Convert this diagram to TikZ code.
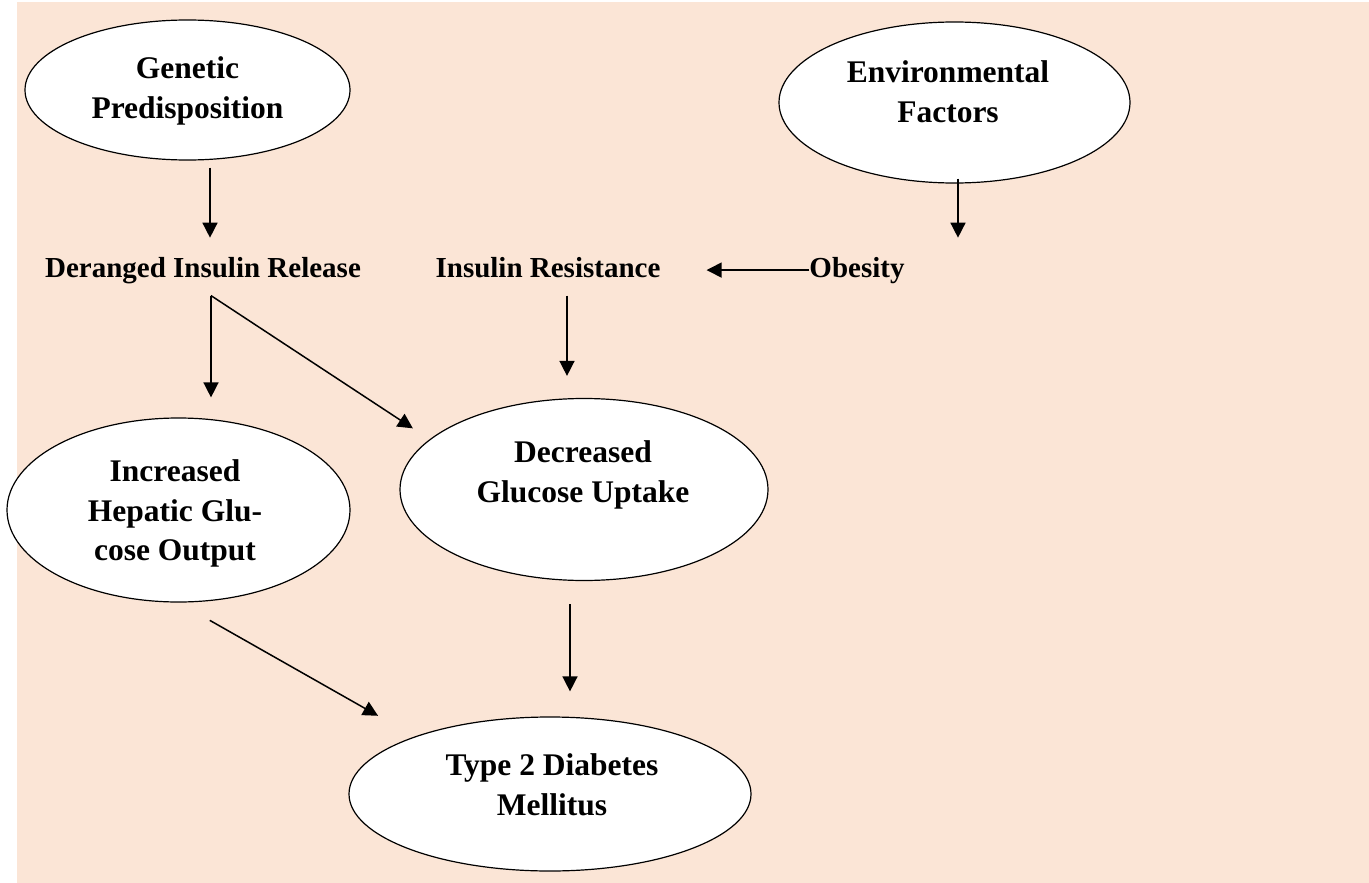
\documentclass[tikz,border=0pt]{standalone}
\usepackage{fontspec}
\setmainfont{Liberation Serif}
\usetikzlibrary{shapes.geometric,arrows.meta}
\definecolor{peach}{HTML}{FBE5D6}
\begin{document}
\begin{tikzpicture}[x=1pt,y=-1pt,
  blob/.style={ellipse,draw,fill=white,line width=1.2pt,inner sep=0pt},
  txt/.style={font=\fontsize{31.5}{39.5}\selectfont\bfseries,align=center,inner sep=0pt},
  lbl/.style={font=\fontsize{29}{35}\selectfont\bfseries,inner sep=0pt,anchor=base},
  arr/.style={line width=1.5pt,-{Triangle[length=15pt,width=15pt]}}]
\useasboundingbox (0,0) rectangle (1369,883);
\fill[peach] (17,2) rectangle (1369,883);
\node[blob,minimum width=325pt,minimum height=140pt] (gp) at (187.5,90){};
\node[blob,minimum width=351pt,minimum height=161pt] (env) at (954.5,102.5){};
\node[blob,minimum width=343pt,minimum height=184pt] (ihg) at (178.5,510){};
\node[blob,minimum width=368pt,minimum height=182pt] (dgu) at (584,489.5){};
\node[blob,minimum width=402pt,minimum height=154pt] (t2d) at (550,794){};
\node[txt] (gpt) at (187.5,90.8){Genetic\\Predisposition};
\node[txt] (envt) at (948,91.9){Environmental\\Factors};
\node[txt] (ihgt) at (175,513.8){Increased\\Hepatic Glu-\\cose Output};
\node[txt] (dgut) at (583,474.8){Decreased\\Glucose Uptake};
\node[txt] (t2dt) at (552,784.9){Type 2 Diabetes\\Mellitus};
\node[lbl] (dir) at (203,277){Deranged Insulin Release};
\node[lbl] (ir) at (548,277){Insulin Resistance};
\node[lbl] (ob) at (857,277){Obesity};
\coordinate (fork) at ([xshift=8pt,yshift=-12pt]dir.south);
\draw[arr,shorten <=7pt,shorten >=19pt] ([xshift=7pt]dir.north |- gp.south) -- ([xshift=7pt]dir.north);
\draw[arr,shorten <=-5pt,shorten >=19pt] ([xshift=3.5pt]env.south) -- ([xshift=3.5pt]env.south |- ob.north);
\draw[arr,shorten >=46pt] (ob.west) -- (ir.east |- ob.west);
\draw[arr,shorten >=20pt] (fork) -- (fork |- ihg.north);
\draw[arr,shorten >=20pt] (fork) -- (dgu.162);
\draw[arr,shorten <=18pt,shorten >=22pt] ([xshift=19pt]ir.south) -- ([xshift=19pt]ir.south |- dgu.north);
\draw[arr,shorten <=36pt,shorten >=42pt] (ihg.south) -- (t2d.157);
\draw[arr,shorten <=23pt,shorten >=25pt] ([xshift=-14pt]dgu.south) -- ([xshift=-14pt]dgu.south |- t2d.north);
\end{tikzpicture}
\end{document}
